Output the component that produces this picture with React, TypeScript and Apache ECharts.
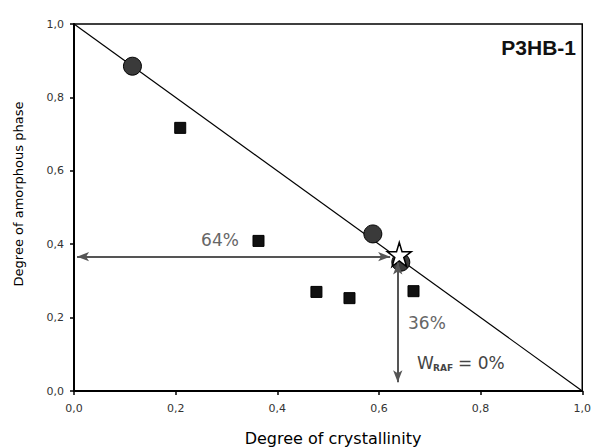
import React, { useEffect, useRef } from "react";
import * as echarts from "echarts";

const circlePoints: [number, number][] = [
  [0.115, 0.885],
  [0.588, 0.428],
  [0.643, 0.351],
];
const squarePoints: [number, number][] = [
  [0.209, 0.717],
  [0.363, 0.409],
  [0.477, 0.27],
  [0.542, 0.253],
  [0.668, 0.272],
];
const starPoint: [number, number] = [0.64, 0.372];
const diagonal: [number, number][] = [
  [0, 1],
  [1, 0],
];
const hArrow: [number, number][] = [
  [0.006, 0.366],
  [0.622, 0.366],
];
const vArrow: [number, number][] = [
  [0.637, 0.35],
  [0.637, 0.024],
];
const xTitle = "Degree of crystallinity";
const yTitle = "Degree of amorphous phase";
const sampleLabel = "P3HB-1";

const STAR =
  "path://M50,0 L61,35 L98,35 L68,57 L79,91 L50,70 L21,91 L32,57 L2,35 L39,35 Z";

export default function App() {
  const ref = useRef<HTMLDivElement>(null);
  useEffect(() => {
    const chart = echarts.init(ref.current!, null, { renderer: "svg" });
    const fmt = (v: number) => v.toFixed(1).replace(".", ",");
    const arrowLine = (pts: [number, number][]) => ({
      silent: true,
      symbol: ["arrow", "arrow"],
      symbolSize: [7, 12],
      label: { show: false },
      lineStyle: { color: "#555", width: 2, type: "solid" },
      data: [[{ coord: pts[0] }, { coord: pts[1] }]],
    });
    chart.setOption({
      animation: false,
      backgroundColor: "#fff",
      grid: {
        left: 74,
        right: 8,
        top: 24,
        bottom: 57,
        show: true,
        borderColor: "#000",
        borderWidth: 1.5,
      },
      xAxis: {
        type: "value",
        min: 0,
        max: 1,
        interval: 0.2,
        axisLine: { show: true, onZero: false, lineStyle: { color: "#000", width: 2 } },
        axisTick: { show: true, length: 4, lineStyle: { color: "#000", width: 1.5 } },
        axisLabel: {
          formatter: fmt,
          fontFamily: "DejaVu Sans",
          fontSize: 11,
          color: "#333",
          margin: 12,
        },
        splitLine: { show: false },
      },
      yAxis: {
        type: "value",
        min: 0,
        max: 1,
        interval: 0.2,
        axisLine: { show: true, onZero: false, lineStyle: { color: "#000", width: 2 } },
        axisTick: { show: true, length: 4, lineStyle: { color: "#000", width: 1.5 } },
        axisLabel: {
          formatter: fmt,
          fontFamily: "DejaVu Sans",
          fontSize: 11,
          color: "#333",
          margin: 10,
        },
        splitLine: { show: false },
      },
      series: [
        {
          type: "line",
          data: diagonal,
          symbol: "none",
          lineStyle: { color: "#000", width: 1.2 },
          z: 1,
        },
        {
          type: "scatter",
          data: [],
          markLine: arrowLine(hArrow),
          z: 2,
        },
        {
          type: "scatter",
          data: [],
          markLine: arrowLine(vArrow),
          z: 2,
        },
        {
          type: "scatter",
          data: squarePoints,
          symbol: "rect",
          symbolSize: 11,
          itemStyle: { color: "#111", borderColor: "#000", borderWidth: 1, opacity: 1 },
          z: 3,
        },
        {
          type: "scatter",
          data: circlePoints,
          symbol: "circle",
          symbolSize: 18,
          itemStyle: { color: "#3a3a3a", borderColor: "#000", borderWidth: 1, opacity: 1 },
          z: 3,
        },
        {
          type: "scatter",
          data: [starPoint],
          symbol: STAR,
          symbolSize: 24,
          itemStyle: { color: "#fff", borderColor: "#000", borderWidth: 1.5, opacity: 1 },
          z: 4,
        },
      ],
      graphic: [
        {
          type: "text",
          x: 333,
          y: 438,
          style: {
            text: xTitle,
            font: "16px 'DejaVu Sans'",
            fill: "#000",
            textAlign: "center",
            textVerticalAlign: "middle",
          },
        },
        {
          type: "text",
          x: 18,
          y: 194,
          rotation: Math.PI / 2,
          style: {
            text: yTitle,
            font: "13px 'DejaVu Sans'",
            fill: "#000",
            textAlign: "center",
            textVerticalAlign: "middle",
          },
        },
        {
          type: "text",
          x: 576,
          y: 47,
          style: {
            text: sampleLabel,
            font: "bold 21px 'Liberation Sans'",
            fill: "#111",
            textAlign: "right",
            textVerticalAlign: "middle",
          },
        },
        {
          type: "text",
          x: 220,
          y: 240,
          style: {
            text: "64%",
            font: "17px 'DejaVu Sans'",
            fill: "#666",
            textAlign: "center",
            textVerticalAlign: "middle",
          },
        },
        {
          type: "text",
          x: 408,
          y: 323,
          style: {
            text: "36%",
            font: "17px 'DejaVu Sans'",
            fill: "#666",
            textAlign: "left",
            textVerticalAlign: "middle",
          },
        },
        {
          type: "text",
          x: 417,
          y: 363,
          style: {
            text: "W",
            font: "17px 'DejaVu Sans'",
            fill: "#444",
            textAlign: "left",
            textVerticalAlign: "middle",
          },
        },
        {
          type: "text",
          x: 433,
          y: 368,
          style: {
            text: "RAF",
            font: "bold 9px 'DejaVu Sans'",
            fill: "#444",
            textAlign: "left",
            textVerticalAlign: "middle",
          },
        },
        {
          type: "text",
          x: 458,
          y: 363,
          style: {
            text: "= 0%",
            font: "17px 'DejaVu Sans'",
            fill: "#444",
            textAlign: "left",
            textVerticalAlign: "middle",
          },
        },
      ],
    });
    return () => chart.dispose();
  }, []);
  return <div ref={ref} style={{ width: 594, height: 448, position: "absolute", left: 0, top: 0 }} />;
}
